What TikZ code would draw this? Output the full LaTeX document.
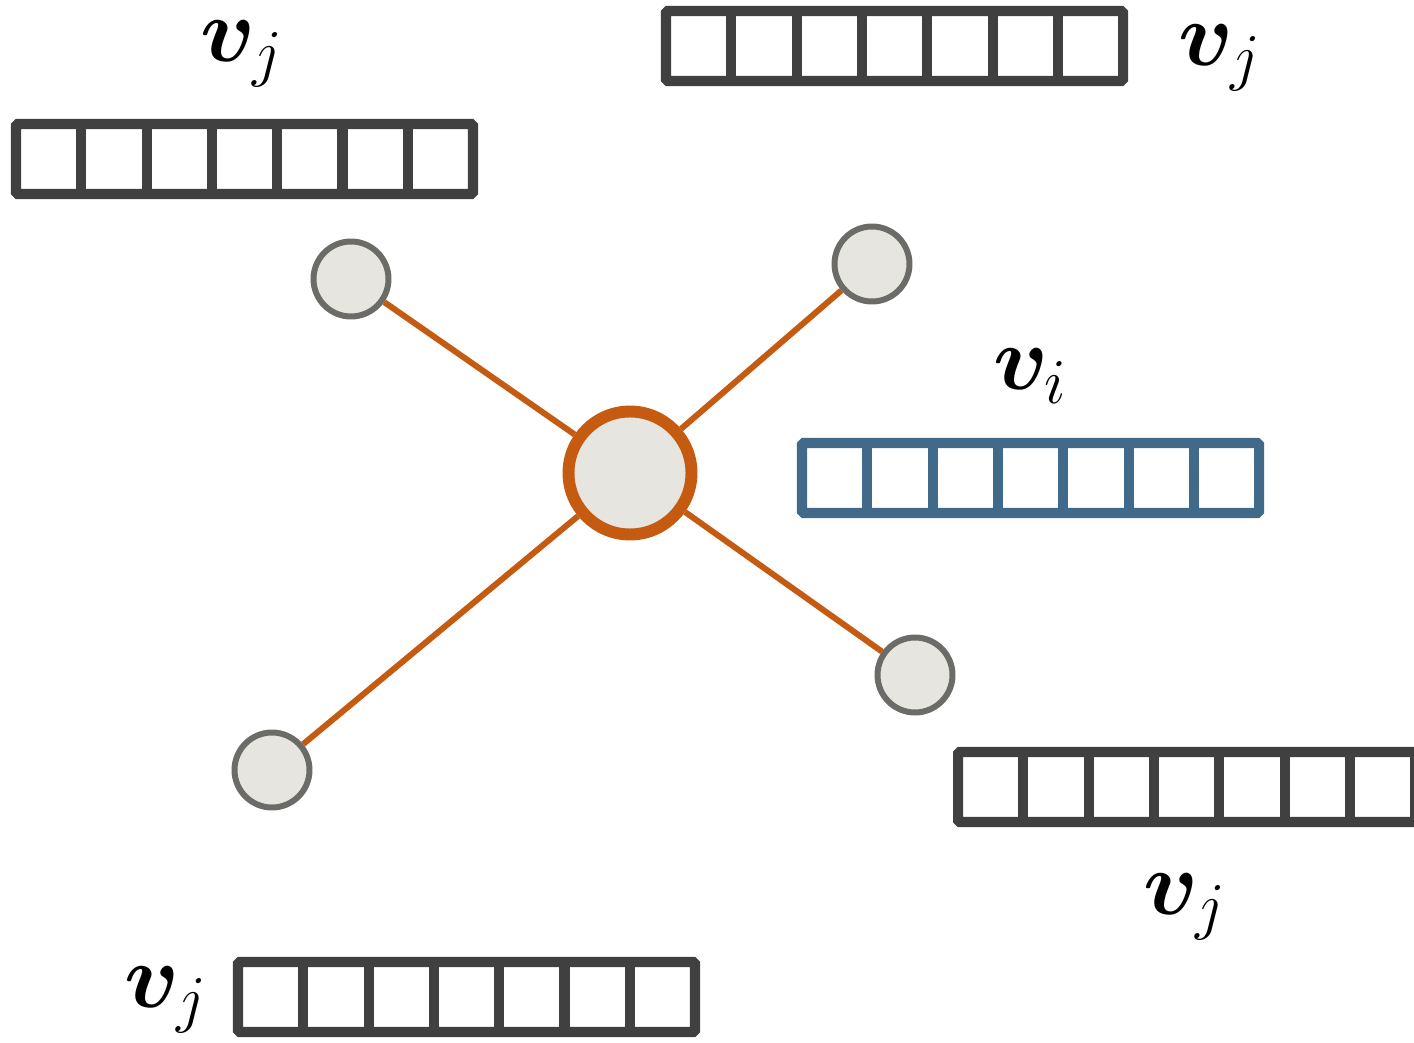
\documentclass[tikz,border=0pt]{standalone}
\usepackage{fix-cm}
\usepackage{bm}

\definecolor{edgeorange}{HTML}{C55A11}
\definecolor{barblue}{HTML}{41698A}
\definecolor{bargray}{HTML}{404040}
\definecolor{nodefill}{HTML}{E7E5DF}
\definecolor{nodering}{HTML}{6B6B67}

\begin{document}
\begin{tikzpicture}[x=0.02cm,y=-0.02cm,
  leaf/.style={circle,draw=nodering,fill=nodefill,line width=3.4pt,minimum size=1.5cm,inner sep=0pt},
  hub/.style={circle,draw=edgeorange,fill=nodefill,line width=6.8pt,minimum size=2.46cm,inner sep=0pt},
  spoke/.style={draw=edgeorange,line width=3.4pt},
  cellbar/.style={line width=5.7pt,rounded corners=1pt},
  lbl/.style={font=\fontsize{52}{60}\selectfont,inner sep=0pt}]
\useasboundingbox (0,0) rectangle (1414,1043);

% feature vectors, seven cells each
\foreach \x/\y/\c in {16/124/bargray,666/11/bargray,802/443/barblue,958/752/bargray,238/962/bargray}{
  \draw[cellbar,draw=\c] (\x,\y) rectangle ++(457,70);
  \foreach \k in {1,...,6}
    \draw[cellbar,draw=\c] (\x+\k*65.3,\y) -- ++(0,70);
}

\node[lbl] (vj1) at (242,54) {$\bm{v}_j$};
\node[lbl] (vj2) at (1220,58) {$\bm{v}_j$};
\node[lbl] (vi) at (1030,376) {$\bm{v}_i$};
\node[lbl] (vj3) at (1185,907) {$\bm{v}_j$};
\node[lbl] (vj4) at (166,1000) {$\bm{v}_j$};

% star around the centre node
\node[hub] (c) at (630,473) {};
\node[leaf] (a) at (351,279) {};
\node[leaf] (b) at (872,264) {};
\node[leaf] (d) at (915,675) {};
\node[leaf] (e) at (272,770) {};

\draw[spoke] (c) -- (a);
\draw[spoke] (c) -- (b);
\draw[spoke] (c) -- (d);
\draw[spoke] (c) -- (e);
\end{tikzpicture}
\end{document}
